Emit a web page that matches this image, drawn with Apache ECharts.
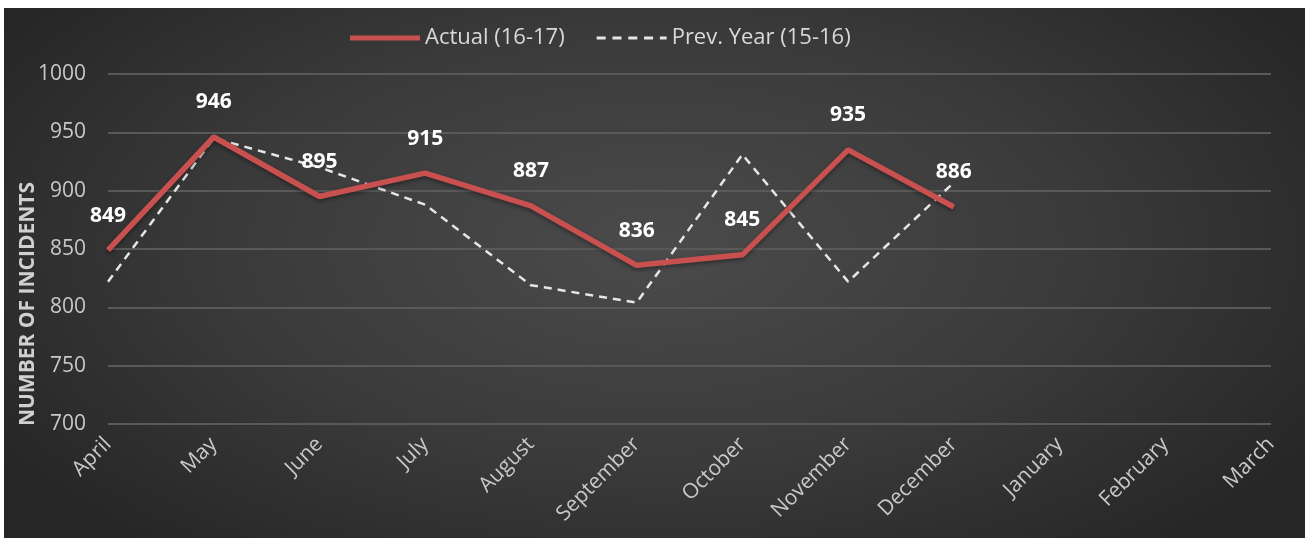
<!DOCTYPE html>
<html>
<head>
<meta charset="utf-8">
<script src="https://cdn.jsdelivr.net/npm/echarts@6/dist/echarts.min.js"></script>
<style>
  html, body { margin: 0; padding: 0; background: #ffffff; width: 1307px; height: 538px; overflow: hidden; }
  #chart {
    position: absolute; left: 4px; top: 8px; width: 1301px; height: 530px;
    background: radial-gradient(ellipse 60% 75% at 50% 45%, #4b4b4b 0%, #3a3a3a 55%, #262626 100%);
  }
</style>
</head>
<body>
<div id="chart"></div>
<script>
// Monthly incident counts, financial year April–March
const months = ['April', 'May', 'June', 'July', 'August', 'September', 'October',
                'November', 'December', 'January', 'February', 'March'];
const actual = [849, 946, 895, 915, 887, 836, 845, 935, 886];
const prevYear = [822, 945, 920, 888, 819, 804, 931, 822, 907];
const yTicks = { min: 700, max: 1000, step: 50 };

const chart = echarts.init(document.getElementById('chart'), null, { renderer: 'canvas' });
const txt = '#c8c8c8';
const font = 'Open Sans';

chart.setOption({
  backgroundColor: 'transparent',
  animation: false,
  textStyle: { fontFamily: font },
  legend: {
    top: 14,
    left: 341,
    itemWidth: 70,
    itemHeight: 14,
    itemGap: 32,
    textStyle: { color: '#d9d9d9', fontSize: 22, fontFamily: font },
    data: [
      { name: 'Actual (16-17)', icon: 'path://M0,0 L70,0 L70,5 L0,5 Z', itemStyle: { color: '#c8504f' } },
      {
        name: 'Prev. Year (15-16)',
        icon: 'path://M8,0 L16,0 L16,2.5 L8,2.5 Z M22,0 L30,0 L30,2.5 L22,2.5 Z M36,0 L44,0 L44,2.5 L36,2.5 Z M50,0 L58,0 L58,2.5 L50,2.5 Z M64,0 L70,0 L70,2.5 L64,2.5 Z',
        itemStyle: { color: '#e6e6e6' }
      }
    ]
  },
  grid: { left: 104, right: 34, top: 66, bottom: 114, containLabel: false },
  xAxis: {
    type: 'category',
    data: months,
    boundaryGap: false,
    axisLine: { show: false },
    axisTick: { show: false },
    axisLabel: { color: txt, fontSize: 21, rotate: 45, margin: 17, interval: 0, fontFamily: font }
  },
  yAxis: {
    type: 'value',
    min: yTicks.min,
    max: yTicks.max,
    interval: yTicks.step,
    axisLine: { show: false },
    axisTick: { show: false },
    axisLabel: { color: txt, fontSize: 21, margin: 22, fontFamily: font, formatter: v => String(v) },
    splitLine: { lineStyle: { color: '#595959', width: 2 } }
  },
  graphic: [{
    type: 'text',
    left: 14,
    top: 174,
    rotation: Math.PI / 2,
    style: {
      text: 'NUMBER OF INCIDENTS',
      fill: '#d0d0d0',
      font: 'bold 21px "Open Sans"'
    }
  }],
  series: [
    {
      name: 'Actual (16-17)',
      type: 'line',
      data: actual,
      symbol: 'circle',
      symbolSize: 0.1,
      z: 3,
      lineStyle: { color: '#c8504f', width: 5.5, shadowColor: 'rgba(0,0,0,0.4)', shadowBlur: 4, shadowOffsetY: 2 },
      itemStyle: { color: '#c8504f' },
      label: {
        show: true,
        position: 'top',
        distance: 24,
        color: '#ffffff',
        fontSize: 21,
        fontWeight: 'bold',
        fontFamily: font
      }
    },
    {
      name: 'Prev. Year (15-16)',
      type: 'line',
      data: prevYear,
      symbol: 'none',
      z: 2,
      lineStyle: { color: '#e6e6e6', width: 2.5, type: [8, 6] },
      itemStyle: { color: '#e6e6e6' }
    }
  ]
});
</script>
</body>
</html>
